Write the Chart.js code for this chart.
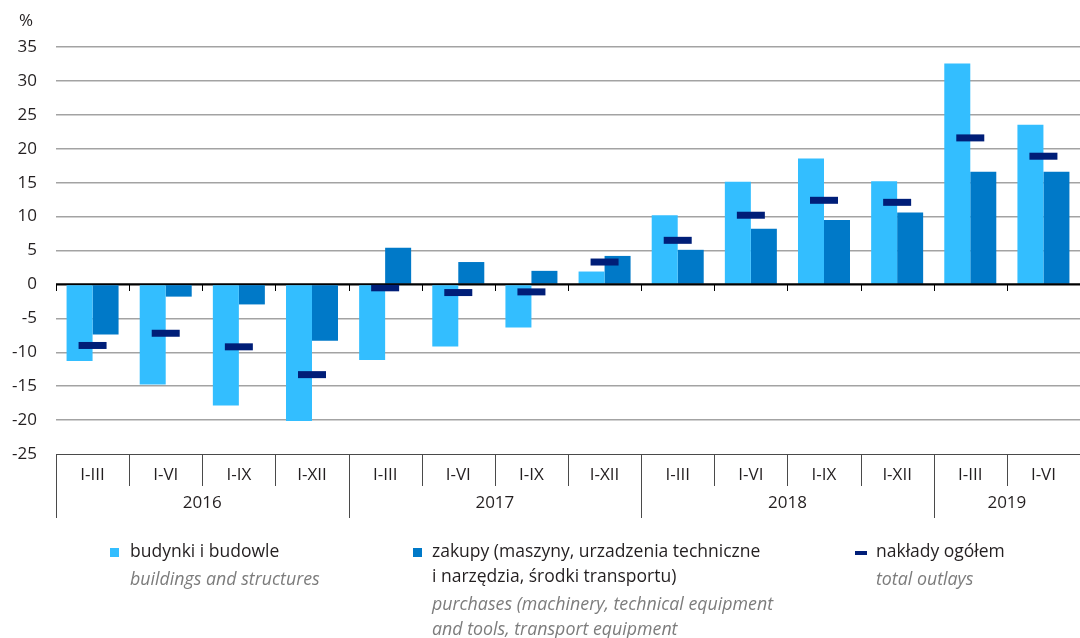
<!DOCTYPE html>
<html><head><meta charset="utf-8">
<script src="https://cdn.jsdelivr.net/npm/chart.js@4"></script>
<style>html,body{margin:0;padding:0;background:#fff;overflow:hidden}canvas{display:block}</style>
</head><body>
<canvas id="c" width="1080" height="638"></canvas>
<script>
const quarters = ['I-III','I-VI','I-IX','I-XII','I-III','I-VI','I-IX','I-XII','I-III','I-VI','I-IX','I-XII','I-III','I-VI'];
const years = ['2016','2017','2018','2019'];
const quartersPerYear = [4,4,4,2];
const buildings = [-11.3,-14.75,-17.85,-20.15,-11.15,-9.15,-6.35,1.9,10.2,15.15,18.55,15.2,32.55,23.55];
const purchases = [-7.4,-1.8,-2.95,-8.3,5.4,3.3,2.0,4.2,5.1,8.2,9.5,10.6,16.6,16.6];
const totalOutlays = [-9.0,-7.2,-9.2,-13.3,-0.5,-1.2,-1.1,3.3,6.5,10.2,12.4,12.1,21.6,18.9];
const yMin = -25, yMax = 35, yStep = 5;
const unitLabel = '%';
const legendBuildings = ['budynki i budowle'];
const legendBuildingsEn = ['buildings and structures'];
const legendPurchases = ['zakupy (maszyny, urzadzenia techniczne', 'i narzędzia, środki transportu)'];
const legendPurchasesEn = ['purchases (machinery, technical equipment', 'and tools, transport equipment'];
const legendTotal = ['nakłady ogółem'];
const legendTotalEn = ['total outlays'];

const C_LIGHT = '#33beff', C_DARK = '#0079c8', C_NAVY = '#001e78';
const FONT = '"Open Sans", sans-serif';
const TXT = '#231f20', GRAY = '#7c7c7c';

const overlay = {
  id: 'overlay',
  afterDatasetsDraw(chart) {
    const {ctx, chartArea: a, scales: {x, y}} = chart;
    const half = (x.getPixelForValue(1) - x.getPixelForValue(0)) / 2;
    const y0 = Math.round(y.getPixelForValue(0));
    ctx.save();
    ctx.strokeStyle = '#000';
    ctx.lineWidth = 1.5;
    ctx.beginPath(); ctx.moveTo(a.left, y0); ctx.lineTo(a.right, y0); ctx.stroke();
    ctx.lineWidth = 1;
    ctx.beginPath();
    for (let i = 0; i < quarters.length; i++) {
      const bx = Math.round(x.getPixelForValue(i) - half) + 0.5;
      ctx.moveTo(bx, y0); ctx.lineTo(bx, y0 + 7);
    }
    ctx.stroke();
    ctx.restore();
  },
  afterDraw(chart) {
    const {ctx, chartArea: a, scales: {x, y}} = chart;
    const half = (x.getPixelForValue(1) - x.getPixelForValue(0)) / 2;
    const bottom = Math.round(a.bottom);
    ctx.save();
    ctx.strokeStyle = '#4a4a4a';
    ctx.lineWidth = 1;
    ctx.beginPath();
    let yearStarts = [0];
    quartersPerYear.reduce((s, n) => { yearStarts.push(s + n); return s + n; }, 0);
    for (let i = 0; i < quarters.length; i++) {
      const bx = Math.round(x.getPixelForValue(i) - half) + 0.5;
      const isYear = yearStarts.includes(i);
      ctx.moveTo(bx, bottom); ctx.lineTo(bx, bottom + (isYear ? 64 : 32));
    }
    ctx.stroke();
    ctx.fillStyle = TXT;
    ctx.font = '17px ' + FONT;
    ctx.textAlign = 'center';
    ctx.textBaseline = 'middle';
    years.forEach((yr, k) => {
      const s = yearStarts[k], e = s + quartersPerYear[k] - 1;
      const left = x.getPixelForValue(s) - half;
      const right = Math.min(x.getPixelForValue(e) + half, a.right);
      ctx.fillText(yr, (left + right) / 2, bottom + 49);
    });
    ctx.fillText(unitLabel, 26, 21);
    ctx.textAlign = 'left';
    ctx.textBaseline = 'alphabetic';
    const drawLines = (lines, x0, y0, lh, font, color) => {
      ctx.font = font; ctx.fillStyle = color;
      lines.forEach((t, i) => ctx.fillText(t, x0, y0 + i * lh));
    };
    const reg = '17.5px ' + FONT, ital = 'italic 17.8px ' + FONT;
    ctx.fillStyle = C_LIGHT; ctx.fillRect(110, 548, 9, 9);
    drawLines(legendBuildings, 130, 557, 26, reg, TXT);
    drawLines(legendBuildingsEn, 130, 585, 26, ital, GRAY);
    ctx.fillStyle = C_DARK; ctx.fillRect(413, 548, 9, 9);
    drawLines(legendPurchases, 432, 557, 25, reg, TXT);
    drawLines(legendPurchasesEn, 432, 610, 25, ital, GRAY);
    ctx.fillStyle = C_NAVY; ctx.fillRect(855, 551, 12, 4);
    drawLines(legendTotal, 876, 557, 26, reg, TXT);
    drawLines(legendTotalEn, 876, 585, 26, ital, GRAY);
    ctx.restore();
  }
};

new Chart(document.getElementById('c'), {
  data: {
    labels: quarters,
    datasets: [
      { type: 'line', label: 'nakłady ogółem', data: totalOutlays, showLine: false, order: 0,
        pointStyle: 'line', pointRadius: 14, pointHoverRadius: 14, pointBorderWidth: 7, pointHoverBorderWidth: 7,
        pointBorderColor: C_NAVY, pointBackgroundColor: C_NAVY, borderColor: C_NAVY },
      { type: 'bar', label: 'budynki i budowle', data: buildings, backgroundColor: C_LIGHT, order: 1,
        barPercentage: 1, categoryPercentage: 0.711 },
      { type: 'bar', label: 'zakupy', data: purchases, backgroundColor: C_DARK, order: 1,
        barPercentage: 1, categoryPercentage: 0.711 }
    ]
  },
  options: {
    responsive: false,
    animation: false,
    devicePixelRatio: 1,
    layout: { autoPadding: false, padding: { top: 47, left: 0, right: 0, bottom: 0 } },
    plugins: { legend: { display: false }, tooltip: { enabled: false } },
    scales: {
      x: {
        type: 'category', offset: true,
        grid: { display: false }, border: { display: false },
        ticks: { font: { size: 17, family: FONT }, color: TXT, padding: 3, maxRotation: 0, autoSkip: false },
        afterFit(s) { s.height = 638 - 454; s.paddingLeft = 0; s.paddingRight = 0; }
      },
      y: {
        min: yMin, max: yMax,
        border: { display: false },
        grid: {
          drawTicks: false,
          color: c => c.tick.value === 0 ? '#000' : (c.tick.value === yMin ? '#4a4a4a' : '#a3a3a3'),
          lineWidth: c => c.tick.value === yMin ? 1 : 1.5
        },
        ticks: { stepSize: yStep, font: { size: 17, family: FONT }, color: TXT, padding: 19 },
        afterFit(s) { s.width = 56; s.paddingTop = 0; s.paddingBottom = 0; }
      }
    }
  },
  plugins: [overlay]
});
</script>
</body></html>
